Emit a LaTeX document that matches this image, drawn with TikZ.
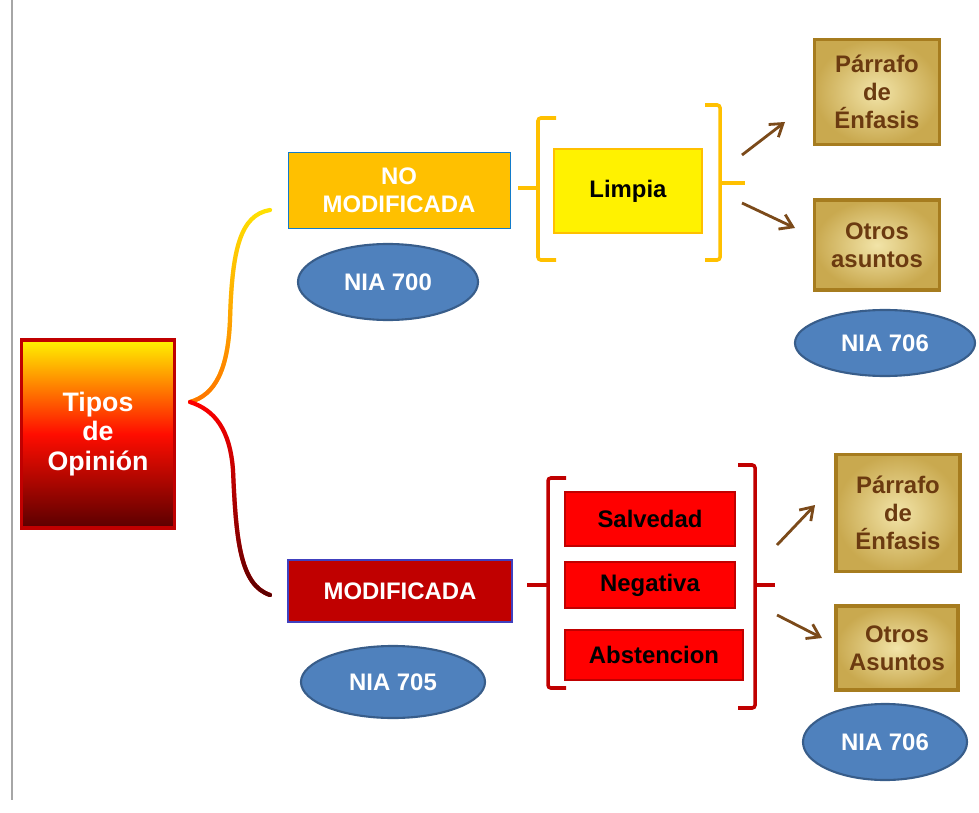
\documentclass[tikz,border=0pt]{standalone}
\usepackage{fontspec}
\setmainfont{Liberation Sans}
\usetikzlibrary{shapes.geometric,arrows.meta,fadings}

\definecolor{gold}{HTML}{FFC000}
\definecolor{niafill}{HTML}{4F81BD}
\definecolor{niadraw}{HTML}{385D8A}
\definecolor{darkred}{HTML}{C00000}
\definecolor{maroon}{HTML}{5A0000}
\definecolor{brownarrow}{HTML}{7B4A1A}
\definecolor{goldbox}{HTML}{C9A94F}
\definecolor{goldlight}{HTML}{F2E4A8}
\definecolor{goldedge}{HTML}{A67C1F}
\definecolor{browntext}{HTML}{6B3A10}

\tikzfading[name=fadeup, top color=transparent!100, bottom color=transparent!0]

\begin{document}
\begin{tikzpicture}[x=0.025cm, y=-0.025cm,
        every node/.style={font=\fontsize{17}{20}\selectfont\bfseries, align=center},
        mainbox/.style={rectangle, draw=darkred, line width=2.5pt, top color=yellow!90!orange,
            bottom color=maroon, middle color=red!90!orange, text=white,
            minimum width=3.83cm, minimum height=4.7cm, font=\fontsize{19}{21}\selectfont\bfseries},
        nia/.style={ellipse, draw=niadraw, fill=niafill, line width=1.5pt, text=white},
        kind/.style={rectangle, draw, minimum width=5.55cm, text=white},
        result/.style={rectangle, line width=1.5pt, minimum width=4.23cm},
        extra/.style={rectangle, draw=goldedge, line width=2.5pt, inner color=goldlight,
            outer color=goldbox, text=browntext, minimum width=3.13cm},
        bracket/.style={line width=2.5pt, rounded corners=2pt},
        arrow/.style={-{Straight Barb[length=3mm, width=4mm]}, brownarrow, line width=2pt}
    ]
        \useasboundingbox (0,0) rectangle (979,813);
        \draw[gray!70, line width=1pt] (12,0) -- (12,800);

        % Main box and brace
        \node[mainbox] (tipos) at (98,434) {Tipos\\de\\Opinión};
        \coordinate (bracetip) at (190,402);
        \coordinate (bracetop) at (270,210);
        \coordinate (bracebot) at (270,595);
        \draw[yellow!85!orange, line width=3pt, line cap=round] (bracetip)
            .. controls (215,395) and (228,370) .. (230,320)
            .. controls (232,250) and (240,215) .. (bracetop);
        \draw[orange!90!red, line width=3pt, line cap=round, path fading=fadeup] (bracetip)
            .. controls (215,395) and (228,370) .. (230,320)
            .. controls (232,250) and (240,215) .. (bracetop);
        \draw[red, line width=3pt, line cap=round] (bracetip)
            .. controls (215,410) and (230,430) .. (233,470)
            .. controls (236,540) and (240,585) .. (bracebot);
        \draw[maroon, line width=3pt, line cap=round, path fading=fadeup] (bracetip)
            .. controls (215,410) and (230,430) .. (233,470)
            .. controls (236,540) and (240,585) .. (bracebot);

        % No modificada
        \node[kind, fill=gold, draw=cyan!60!blue, minimum height=1.9cm] (nomod) at (399,190) {NO\\MODIFICADA};
        \node[nia, minimum width=4.5cm, minimum height=1.9cm] (nia700) at (388,282) {NIA 700};
        \draw[bracket, gold] (556,118) -- (538,118) -- (538,260) -- (556,260);
        \draw[bracket, gold] (518,188) -- (538,188);
        \node[result, fill=yellow, draw=gold, minimum width=3.68cm, minimum height=2.08cm] (limpia) at (628,191) {Limpia};
        \draw[bracket, gold] (705,105) -- (720,105) -- (720,260) -- (705,260);
        \draw[bracket, gold] (720,183) -- (745,183);

        \node[extra, minimum height=2.63cm] (parrafo1) at (877,92) {Párrafo\\de\\Énfasis};
        \node[extra, minimum height=2.25cm] (otros1) at (877,245) {Otros\\asuntos};
        \node[nia, minimum width=4.5cm, minimum height=1.65cm] (nia706a) at (885,343) {NIA 706};
        \coordinate (a1) at (742,155);
        \coordinate (b1) at (785,122);
        \coordinate (a2) at (742,203);
        \coordinate (b2) at (795,228);
        \draw[arrow] (a1) -- (b1);
        \draw[arrow] (a2) -- (b2);

        % Modificada
        \node[kind, fill=darkred, draw=blue!50!gray, line width=1pt, minimum width=5.6cm, minimum height=1.55cm] (mod) at (400,591) {MODIFICADA};
        \node[nia, minimum width=4.6cm, minimum height=1.8cm] (nia705) at (393,682) {NIA 705};
        \draw[bracket, darkred] (566,478) -- (548,478) -- (548,688) -- (566,688);
        \draw[bracket, darkred] (527,585) -- (548,585);
        \node[result, fill=red, draw=darkred, minimum height=1.35cm] (salvedad) at (650,519) {Salvedad};
        \node[result, fill=red, draw=darkred, minimum height=1.13cm] (negativa) at (650,585) {Negativa};
        \node[result, fill=red, draw=darkred, minimum width=4.43cm, minimum height=1.25cm] (abstencion) at (654,655) {Abstencion};
        \draw[bracket, darkred] (738,465) -- (755,465) -- (755,708) -- (738,708);
        \draw[bracket, darkred] (755,585) -- (775,585);

        \node[extra, minimum width=3.1cm, minimum height=2.93cm] (parrafo2) at (898,513) {Párrafo\\de\\Énfasis};
        \node[extra, minimum width=3.05cm, minimum height=2.1cm] (otros2) at (897,648) {Otros\\Asuntos};
        \node[nia, minimum width=4.1cm, minimum height=1.9cm] (nia706b) at (885,742) {NIA 706};
        \coordinate (a3) at (777,545);
        \coordinate (b3) at (815,505);
        \coordinate (a4) at (777,615);
        \coordinate (b4) at (822,638);
        \draw[arrow] (a3) -- (b3);
        \draw[arrow] (a4) -- (b4);
    \end{tikzpicture}
\end{document}
